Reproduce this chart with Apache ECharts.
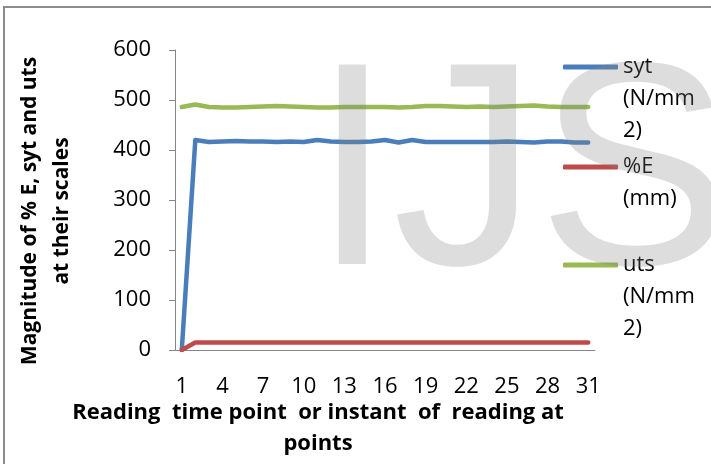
<!DOCTYPE html>
<html>
<head>
<meta charset="utf-8">
<script src="https://cdn.jsdelivr.net/npm/echarts@6/dist/echarts.min.js"></script>
<style>
  html, body { margin: 0; padding: 0; background: #fff; }
  #chart { width: 711px; height: 464px; }
</style>
</head>
<body>
<div id="chart"></div>
<script>
const categories = ['1', '2', '3', '4', '5', '6', '7', '8', '9', '10', '11', '12', '13', '14', '15', '16',
  '17', '18', '19', '20', '21', '22', '23', '24', '25', '26', '27', '28', '29', '30', '31']

const sytValues = [0, 420, 416, 417, 418, 417, 417, 416, 417, 416, 420, 417, 416, 416, 417, 420,
  415, 420, 416, 416, 416, 416, 416, 416, 417, 416, 415, 417, 417, 415, 415]
const eValues = [0, 15, 15, 15, 15, 15, 15, 15, 15, 15, 15, 15, 15, 15, 15, 15,
  15, 15, 15, 15, 15, 15, 15, 15, 15, 15, 15, 15, 15, 15, 15]
const utsValues = [486, 491, 486, 485, 485, 486, 487, 488, 487, 486, 485, 485, 486, 486, 486, 486,
  485, 486, 488, 488, 487, 486, 487, 486, 487, 488, 489, 487, 486, 486, 486]

const seriesNames = ['syt (N/mm2)', '%E (mm)', 'uts (N/mm2)']
const legendLabels = [['syt', '(N/mm', '2)'], ['%E', '(mm)'], ['uts', '(N/mm', '2)']]
const legendRows = [67, 167, 265]
const colors = ['#4a7ebb', '#be4b48', '#98b954']

const yAxisTitle = 'Magnitude of % E, syt and uts\nat their scales'
const xAxisTitle = 'Reading  time point  or instant  of  reading at\npoints'

const font = 'Open Sans'
const lineGap = 32
const chart = echarts.init(document.getElementById('chart'))

// icon sits at the middle of the text block, so pad the top with blank lines
const legends = seriesNames.map((name, i) => {
  const lines = legendLabels[i]
  return {
    data: [name],
    orient: 'vertical',
    left: 563,
    top: legendRows[i] - (lines.length - 1) * lineGap - lineGap / 2,
    padding: 0,
    icon: 'roundRect',
    itemWidth: 55,
    itemHeight: 5,
    formatter: () => '\n'.repeat(lines.length - 1) + lines.join('\n'),
    textStyle: { fontFamily: font, fontSize: 22, lineHeight: lineGap, color: '#000' }
  }
})

const option = {
  animation: false,
  color: colors,
  grid: { left: 175, right: 116, top: 50, bottom: 114, outerBoundsMode: 'none' },
  legend: legends,
  xAxis: {
    type: 'category',
    data: categories,
    boundaryGap: true,
    axisLine: { lineStyle: { color: '#868686', width: 1 } },
    axisTick: { show: false },
    axisLabel: { interval: 2, color: '#000', fontFamily: font, fontSize: 22, margin: 26 },
    name: xAxisTitle,
    nameLocation: 'middle',
    nameGap: 47,
    nameMoveOverlap: false,
    nameTextStyle: {
      fontFamily: font, fontWeight: 'bold', fontSize: 22, lineHeight: 31, color: '#000',
      padding: [0, 134, 0, 0]
    }
  },
  yAxis: {
    type: 'value',
    min: 0,
    max: 600,
    interval: 100,
    axisLine: { show: true, lineStyle: { color: '#868686', width: 1 } },
    axisTick: { show: true, length: 6, lineStyle: { color: '#868686' } },
    splitLine: { show: false },
    axisLabel: { color: '#000', fontFamily: font, fontSize: 22, margin: 24 },
    name: yAxisTitle,
    nameLocation: 'middle',
    nameGap: 97,
    nameMoveOverlap: false,
    nameTextStyle: {
      fontFamily: font, fontWeight: 'bold', fontSize: 21, lineHeight: 32, color: '#000',
      padding: [0, 22, 0, 0]
    }
  },
  series: [sytValues, eValues, utsValues].map((values, i) => ({
    name: seriesNames[i],
    type: 'line',
    data: values,
    symbol: 'none',
    lineStyle: { width: 4.5, cap: 'round', join: 'round' }
  })),
  graphic: [
    {
      type: 'rect',
      shape: { x: 4, y: 7, width: 740, height: 500 },
      style: { fill: 'none', stroke: '#8c8c8c', lineWidth: 2 },
      silent: true
    },
    {
      type: 'text',
      x: 312,
      y: 184,
      z: 100,
      silent: true,
      style: {
        text: 'IJS',
        font: '290px "Liberation Sans"',
        fill: 'rgba(128,128,128,0.27)',
        textVerticalAlign: 'middle'
      }
    }
  ]
}

chart.setOption(option)
</script>
</body>
</html>
